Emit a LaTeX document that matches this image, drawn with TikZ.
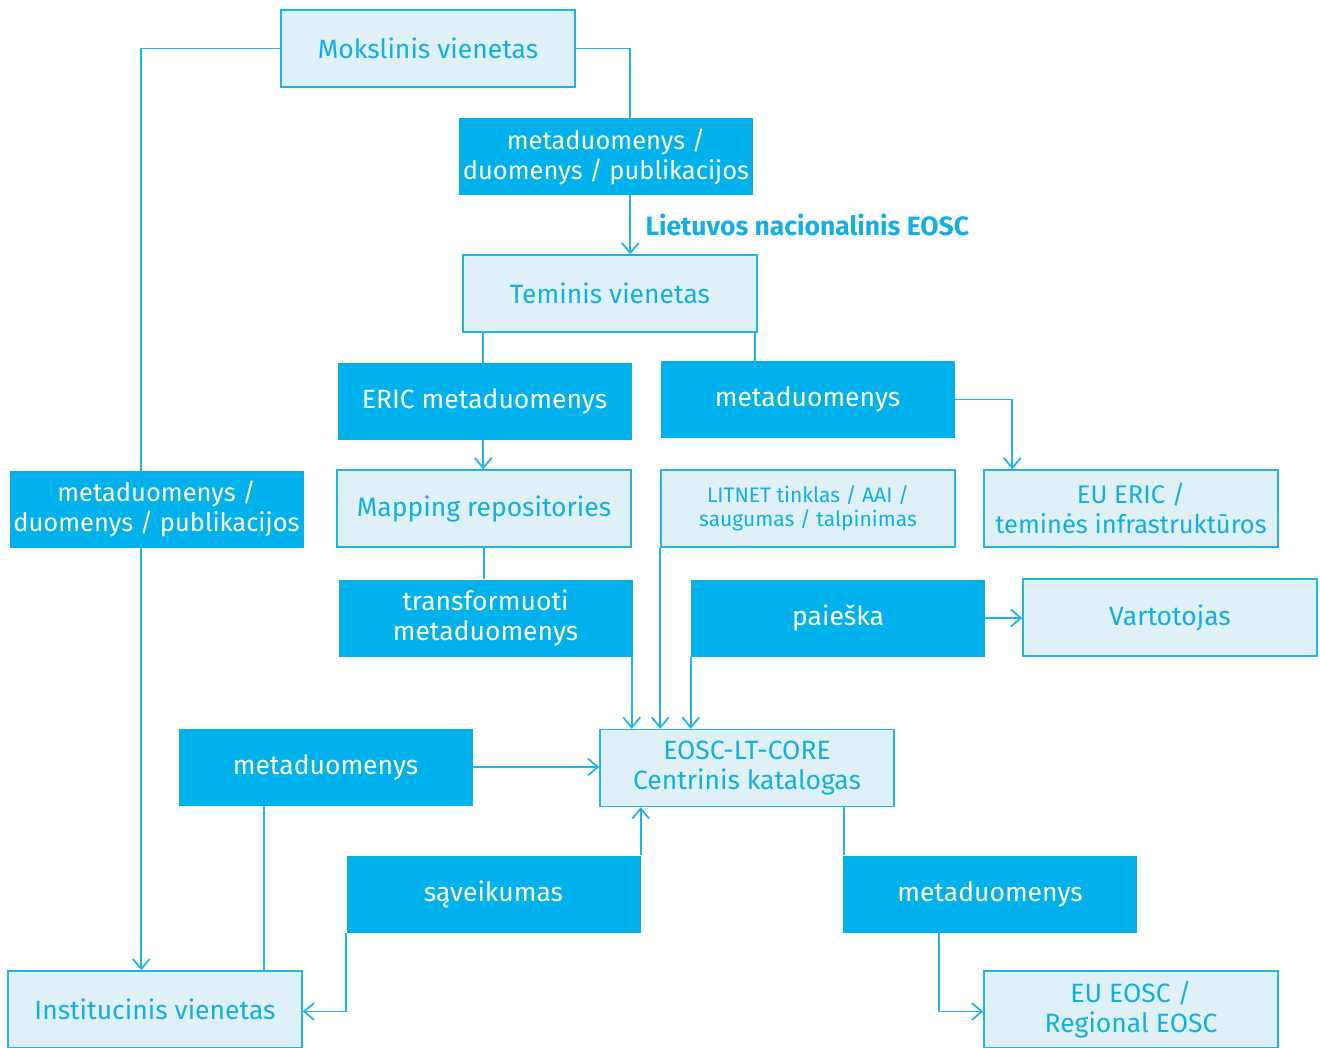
\documentclass[tikz,border=0pt]{standalone}
\usepackage{fontspec}
\setmainfont{Fira Sans}
\usetikzlibrary{arrows.meta,backgrounds}
\definecolor{cdark}{HTML}{00B1EB}
\definecolor{clight}{HTML}{DFF0F7}
\definecolor{cline}{HTML}{22B4E8}
\definecolor{ctext}{HTML}{12AEE6}
\tikzset{
  x=1pt,y=-1pt,
  base/.style={rectangle,inner sep=0pt,minimum width=294pt,minimum height=77pt,align=center,font=\fontsize{26.5}{30}\selectfont},
  lbox/.style={base,draw=cline,line width=1.5pt,fill=clight,text=ctext},
  dbox/.style={base,fill=cdark,text=white},
  slim/.style={font=\fontsize{25.5}{30}\selectfont},
  conn/.style={draw=cline,line width=1.8pt},
  arr/.style={conn,-{Straight Barb[length=10pt,width=17pt,line width=1.8pt]}}
}
\begin{document}
\begin{tikzpicture}
\useasboundingbox (0,0) rectangle (1320,1047);
\clip (0,0) rectangle (1320,1047);
% nodes
\node[lbox] (mok) at (428,48.5) {Mokslinis vienetas};
\node[dbox,slim] (mdpT) at (606,156.5) {metaduomenys /\\duomenys / publikacijos};
\node[anchor=west,text=ctext,font=\fontsize{26.5}{30}\bfseries\selectfont] (lnl) at (642,225) {Lietuvos nacionalinis EOSC};
\node[lbox] (teminis) at (610,293.5) {Teminis vienetas};
\node[dbox] (eric) at (484.5,401) {ERIC metaduomenys};
\node[dbox] (metaR) at (807.5,399.5) {metaduomenys};
\node[lbox] (map) at (484,508.5) {Mapping repositories};
\node[lbox,font=\fontsize{21}{24}\selectfont] (litnet) at (808,508.5) {LITNET tinklas / AAI /\\saugumas / talpinimas};
\node[lbox,slim] (euer) at (1131,508.5) {EU ERIC /\\teminės infrastruktūros};
\node[dbox,slim] (mdpL) at (156.5,509) {metaduomenys /\\duomenys / publikacijos};
\node[dbox] (trans) at (485.5,618) {transformuoti\\metaduomenys};
\node[dbox] (paieska) at (838,618) {paieška};
\node[lbox] (vart) at (1170,617.5) {Vartotojas};
\node[dbox] (metaL) at (325.5,767) {metaduomenys};
\node[lbox] (eosc) at (747,768) {EOSC-LT-CORE\\Centrinis katalogas};
\node[dbox] (sav) at (493.5,894) {sąveikumas};
\node[dbox] (metaBR) at (990,894) {metaduomenys};
\node[lbox] (inst) at (155,1009.5) {Institucinis vienetas};
\node[lbox] (eueosc) at (1131,1009.5) {EU EOSC /\\Regional EOSC};
% connectors
\begin{scope}[on background layer]
\fill[white] (0,0) rectangle (1320,1047);
\draw[arr] (mok.east) -| ([xshift=168pt]teminis.north west);
\draw[arr] (mok.west) -| ([xshift=134pt]inst.north west);
\draw[arr] ([xshift=21pt]teminis.south west) coordinate (t1) -- (t1 |- map.north);
\draw[conn] ([xshift=-3pt]teminis.south east) coordinate (t2) -- (t2 |- metaR.north);
\draw[arr] (metaR.east) -| ([xshift=29pt]euer.north west);
\draw[conn] (map.south) -- (map.south |- trans.north);
\draw[arr] ([xshift=-1pt]trans.south east) coordinate (t3) -- (t3 |- eosc.north);
\draw[arr] (litnet.south west) -- (litnet.south west |- eosc.north);
\draw[arr] (paieska.south west) -- (paieska.south west |- eosc.north);
\draw[arr] (paieska.east) -- (paieska.east -| vart.west);
\draw[arr] (metaL.east) -- (metaL.east -| eosc.west);
\draw[conn] ([xshift=86pt]metaL.south west) coordinate (t4) -- (t4 |- inst.north);
\draw[arr] (sav.north east) -- (sav.north east |- eosc.south);
\draw[arr] (sav.south west) |- ([yshift=-2pt]inst.east);
\draw[conn] ([xshift=-51pt]eosc.south east) coordinate (t5) -- (t5 |- metaBR.north);
\draw[arr] ([xshift=96pt]metaBR.south west) |- ([yshift=-2pt]eueosc.west);
\end{scope}
\end{tikzpicture}
\end{document}
